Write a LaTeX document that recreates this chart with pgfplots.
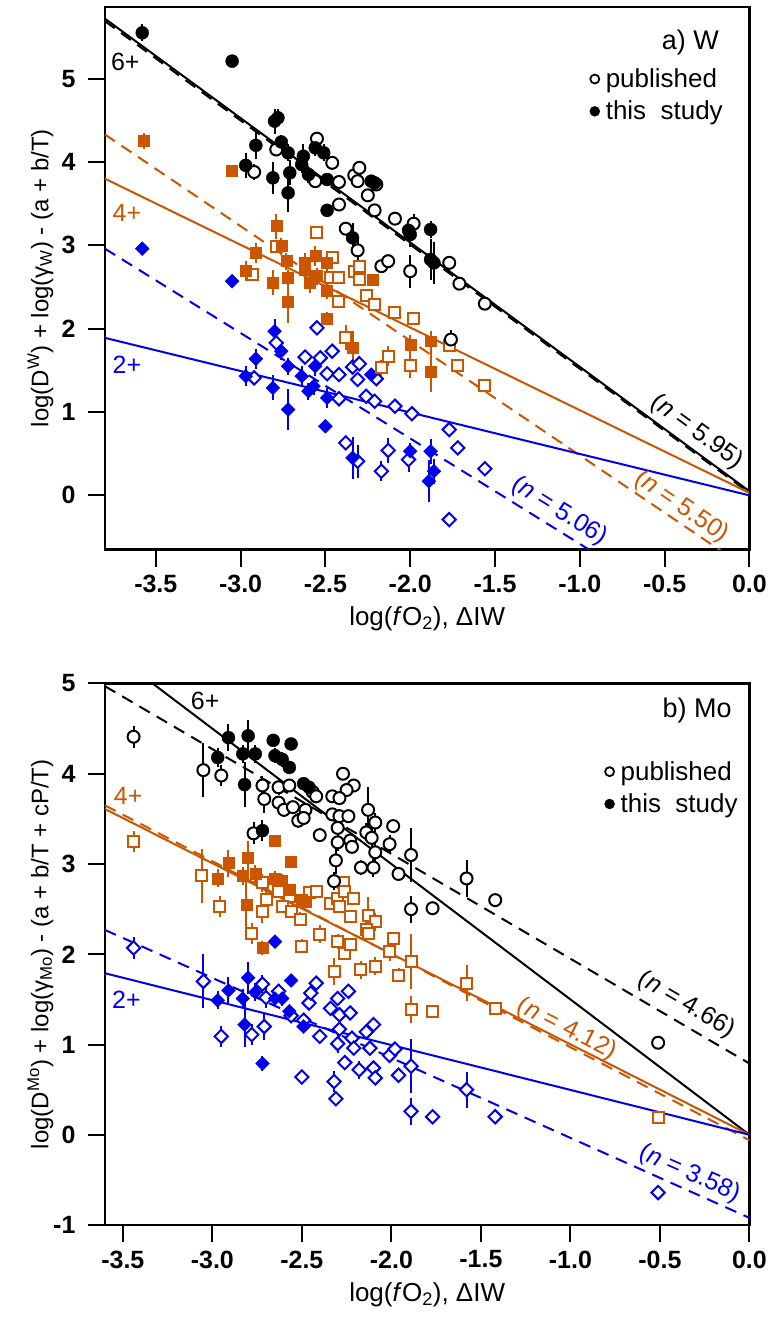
\documentclass[border=0pt]{standalone}
\usepackage{pgfplots}
\usepackage{pgfplotstable}
\pgfplotsset{compat=1.18}
\usepackage{fontspec}
\setmainfont{Liberation Sans}
\definecolor{myorange}{RGB}{204,85,0}
\definecolor{myblue}{RGB}{0,0,235}
\tikzset{ann/.style={font=\fontsize{25}{25}\selectfont}}
\pgfplotsset{
  myaxis/.style={
    scale only axis, width=645pt,
    axis line style={line width=2.5pt},
    tick align=outside, tick style={line width=2pt, black}, major tick length=17pt,
    xtick pos=left, ytick pos=left,
    xtick={-3.5,-3,-2.5,-2,-1.5,-1,-0.5,0},
    xticklabels={-3.5,-3.0,-2.5,-2.0,-1.5,-1.0,-0.5,0.0},
    ticklabel style={font=\fontsize{25}{25}\selectfont\bfseries},
    xticklabel style={yshift=-5pt},
    yticklabel style={xshift=-9pt},
    xlabel style={font=\fontsize{26}{30}\selectfont, at={(axis description cs:0.5,-0.128)}, anchor=center},
    ylabel style={font=\fontsize{24}{28}\selectfont, at={(axis description cs:-0.10,0.5)}, anchor=center, rotate=0},
    legend style={draw=none, fill=none, font=\fontsize{26}{26}\selectfont, row sep=8pt, inner sep=0pt},
    legend cell align=left,
  },
  ebar/.style={only marks, mark=none, forget plot, error bars/.cd, y dir=both, y explicit, error mark=none, error bar style={line width=2pt}},
  pubc/.style={only marks, black, mark=*, mark size=6pt, mark options={line width=2pt, fill=white, draw=black}, forget plot},
  thsc/.style={only marks, black, mark=*, mark size=6.5pt, forget plot},
  pubs/.style={only marks, myorange, mark=square*, mark size=5.5pt, mark options={line width=2pt, fill=white, draw=myorange}, forget plot},
  thss/.style={only marks, myorange, mark=square*, mark size=5.5pt, forget plot},
  pubd/.style={only marks, myblue, mark=square*, mark size=4.7pt, mark options={rotate=45, line width=2pt, fill=white, draw=myblue}, forget plot},
  thsd/.style={only marks, myblue, mark=square*, mark size=4.9pt, mark options={rotate=45}, forget plot},
  fitl/.style={line width=2pt, forget plot},
  fitd/.style={line width=2pt, dash pattern=on 12pt off 8pt, forget plot},
}
% ===================== data: W panel =====================
\pgfplotstableread{
x y e
-2.79 4.15 0.05
-2.92 3.88 0.10
-2.55 4.28 0.05
-2.56 3.77 0.08
-2.46 3.99 0.05
-2.42 3.76 0.05
-2.33 3.84 0.05
-2.30 3.93 0.05
-2.31 3.77 0.05
-2.20 3.73 0.05
-2.25 3.60 0.05
-2.21 3.42 0.05
-2.42 3.49 0.05
-2.38 3.20 0.05
-2.09 3.32 0.05
-1.98 3.26 0.12
-2.00 2.69 0.20
-2.31 2.94 0.15
-2.17 2.75 0.05
-2.13 2.81 0.05
-1.77 2.79 0.05
-1.71 2.54 0.05
-1.56 2.30 0.05
-1.76 1.87 0.12
}\WpubB
\pgfplotstableread{
x y e
-3.58 5.55 0.10
-3.05 5.21 0.06
-2.80 4.49 0.15
-2.78 4.53 0.10
-2.91 4.20 0.16
-2.97 3.96 0.15
-2.81 3.81 0.19
-2.76 4.24 0.08
-2.72 4.11 0.10
-2.71 3.87 0.15
-2.72 3.63 0.23
-2.63 4.07 0.14
-2.64 3.97 0.10
-2.60 3.85 0.10
-2.56 4.17 0.10
-2.51 4.11 0.10
-2.49 3.79 0.08
-2.49 3.42 0.08
-2.23 3.77 0.05
-2.21 3.75 0.05
-2.34 3.09 0.18
-2.00 3.13 0.15
-2.01 3.18 0.10
-1.88 3.19 0.10
-1.88 2.83 0.25
-1.86 2.79 0.25
}\WthsB
\pgfplotstableread{
x y e
-2.79 2.99 0.05
-2.55 3.15 0.05
-2.46 2.85 0.05
-2.33 2.69 0.05
-2.30 2.75 0.05
-2.93 2.65 0.08
-2.47 2.61 0.05
-2.42 2.62 0.05
-2.30 2.59 0.05
-2.42 2.33 0.05
-2.26 2.40 0.05
-2.21 2.29 0.05
-2.09 2.19 0.05
-1.98 2.12 0.05
-2.38 1.90 0.15
-2.13 1.67 0.12
-2.17 1.53 0.10
-2.00 1.56 0.15
-1.77 1.80 0.05
-1.72 1.56 0.05
-1.56 1.32 0.05
}\WpubO
\pgfplotstableread{
x y e
-3.57 4.25 0.10
-3.05 3.89 0.05
-2.79 3.23 0.15
-2.91 2.91 0.12
-2.76 2.99 0.10
-2.73 2.81 0.10
-2.97 2.69 0.12
-2.62 2.79 0.12
-2.56 2.87 0.12
-2.49 2.79 0.10
-2.81 2.55 0.15
-2.72 2.61 0.10
-2.72 2.32 0.25
-2.62 2.71 0.10
-2.59 2.55 0.12
-2.55 2.63 0.10
-2.49 2.46 0.10
-2.49 2.12 0.08
-2.22 2.59 0.05
-2.34 1.77 0.20
-2.00 1.81 0.12
-1.88 1.85 0.12
-1.88 1.49 0.25
}\WthsO
\pgfplotstableread{
x y e
-2.92 1.41 0.05
-2.79 1.83 0.05
-2.55 2.01 0.05
-2.62 1.66 0.05
-2.53 1.65 0.05
-2.46 1.73 0.05
-2.49 1.46 0.05
-2.42 1.45 0.05
-2.34 1.54 0.05
-2.30 1.58 0.05
-2.31 1.39 0.05
-2.20 1.40 0.05
-2.42 1.16 0.05
-2.26 1.19 0.05
-2.21 1.13 0.05
-2.09 1.07 0.05
-1.99 0.98 0.05
-2.38 0.63 0.05
-2.31 0.41 0.20
-2.13 0.54 0.15
-2.17 0.29 0.12
-2.01 0.43 0.15
-1.77 0.79 0.05
-1.72 0.57 0.05
-1.56 0.32 0.05
-1.77 -0.29 0.05
}\WpubL
\pgfplotstableread{
x y e
-3.58 2.96 0.08
-3.05 2.57 0.05
-2.80 1.97 0.15
-2.76 1.73 0.10
-2.91 1.64 0.12
-2.97 1.43 0.12
-2.81 1.29 0.15
-2.72 1.55 0.10
-2.72 1.03 0.25
-2.64 1.43 0.12
-2.60 1.25 0.10
-2.56 1.55 0.12
-2.57 1.31 0.10
-2.49 1.17 0.12
-2.50 0.83 0.06
-2.23 1.45 0.05
-2.34 0.45 0.25
-2.00 0.53 0.10
-1.88 0.53 0.15
-1.86 0.29 0.15
-1.89 0.17 0.25
}\WthsL
% ===================== data: Mo panel =====================
\pgfplotstableread{
x y e
-3.44 4.41 0.12
-3.05 4.04 0.30
-2.95 3.98 0.12
-2.72 3.87 0.10
-2.71 3.72 0.15
-2.63 3.85 0.08
-2.57 3.87 0.05
-2.63 3.68 0.05
-2.60 3.60 0.08
-2.55 3.63 0.05
-2.48 3.60 0.05
-2.52 3.48 0.08
-2.49 3.51 0.08
-2.44 3.80 0.05
-2.42 3.75 0.05
-2.27 4.00 0.05
-2.21 3.87 0.05
-2.25 3.82 0.05
-2.33 3.75 0.05
-2.29 3.73 0.05
-2.33 3.55 0.05
-2.29 3.53 0.08
-2.24 3.53 0.05
-2.30 3.40 0.08
-2.30 3.24 0.10
-2.23 3.26 0.05
-2.22 3.19 0.05
-2.40 3.32 0.08
-2.77 3.34 0.12
-2.31 3.04 0.15
-2.32 2.81 0.10
-2.13 3.60 0.25
-2.09 3.46 0.10
-2.14 3.35 0.10
-2.11 3.29 0.10
-2.09 3.13 0.10
-2.10 2.96 0.10
-2.17 2.96 0.08
-2.01 3.22 0.10
-1.99 3.42 0.05
-1.96 2.89 0.05
-1.89 3.10 0.30
-1.89 2.50 0.15
-1.77 2.51 0.05
-1.58 2.84 0.20
-1.42 2.60 0.05
-0.51 1.02 0.03
}\MpubB
\pgfplotstableread{
x y e
-2.91 4.40 0.15
-2.80 4.42 0.18
-2.97 4.18 0.10
-2.83 4.22 0.10
-2.76 4.22 0.10
-2.66 4.37 0.05
-2.56 4.33 0.05
-2.65 4.20 0.08
-2.61 4.16 0.08
-2.57 4.07 0.05
-2.82 3.88 0.25
-2.49 3.89 0.05
-2.46 3.85 0.05
-2.72 3.37 0.12
}\MthsB
\pgfplotstableread{
x y e
-3.44 3.25 0.12
-3.06 2.87 0.30
-2.96 2.53 0.12
-2.72 2.79 0.10
-2.70 2.61 0.12
-2.63 2.70 0.08
-2.57 2.64 0.05
-2.72 2.47 0.12
-2.61 2.53 0.05
-2.56 2.47 0.05
-2.51 2.39 0.08
-2.46 2.68 0.05
-2.42 2.70 0.05
-2.34 2.56 0.05
-2.30 2.62 0.05
-2.27 2.79 0.05
-2.26 2.70 0.05
-2.21 2.62 0.05
-2.29 2.53 0.05
-2.23 2.42 0.05
-2.13 2.43 0.20
-2.09 2.36 0.10
-2.14 2.27 0.10
-2.40 2.22 0.10
-2.78 2.23 0.12
-2.50 2.09 0.08
-2.30 2.14 0.08
-2.26 2.01 0.05
-2.23 2.11 0.05
-2.32 1.81 0.15
-2.17 1.83 0.10
-2.09 1.87 0.10
-2.13 2.23 0.05
-1.99 2.18 0.05
-2.01 2.03 0.10
-1.96 1.77 0.08
-1.89 1.92 0.30
-1.89 1.39 0.15
-1.77 1.37 0.05
-1.58 1.68 0.20
-1.42 1.40 0.05
-0.51 0.19 0.03
}\MpubO
\pgfplotstableread{
x y e
-2.65 3.26 0.05
-2.56 3.03 0.05
-2.91 3.01 0.15
-2.80 3.07 0.18
-2.97 2.84 0.10
-2.83 2.87 0.10
-2.76 2.89 0.10
-2.65 2.84 0.08
-2.61 2.81 0.08
-2.57 2.72 0.05
-2.81 2.55 0.25
-2.50 2.61 0.05
-2.48 2.58 0.05
-2.72 2.07 0.08
}\MthsO
\pgfplotstableread{
x y e
-3.44 2.07 0.12
-3.05 1.70 0.30
-2.95 1.09 0.12
-2.72 1.67 0.10
-2.70 1.52 0.12
-2.63 1.59 0.08
-2.78 1.11 0.12
-2.71 1.20 0.15
-2.56 1.32 0.05
-2.49 1.27 0.05
-2.46 1.46 0.05
-2.45 1.57 0.05
-2.42 1.68 0.05
-2.40 1.09 0.05
-2.34 1.40 0.05
-2.30 1.51 0.05
-2.24 1.59 0.05
-2.29 1.33 0.05
-2.23 1.35 0.05
-2.29 1.17 0.05
-2.22 1.07 0.05
-2.30 1.01 0.10
-2.21 0.96 0.05
-2.14 1.14 0.05
-2.10 1.22 0.05
-2.12 0.96 0.05
-2.26 0.80 0.05
-2.18 0.72 0.10
-2.10 0.74 0.05
-2.09 0.63 0.05
-2.32 0.59 0.12
-2.31 0.40 0.05
-2.50 0.64 0.05
-2.01 0.88 0.05
-1.98 0.95 0.05
-1.96 0.66 0.08
-1.89 0.76 0.30
-1.89 0.26 0.15
-1.77 0.20 0.05
-1.58 0.50 0.20
-1.42 0.20 0.05
-0.51 -0.64 0.03
}\MpubL
\pgfplotstableread{
x y e
-2.65 2.14 0.05
-2.80 1.74 0.18
-2.91 1.60 0.15
-2.97 1.49 0.10
-2.83 1.51 0.10
-2.76 1.58 0.10
-2.65 1.51 0.08
-2.61 1.51 0.08
-2.56 1.71 0.05
-2.57 1.37 0.05
-2.82 1.22 0.25
-2.49 1.20 0.05
-2.72 0.79 0.08
}\MthsL
\begin{document}
\begin{tikzpicture}
\useasboundingbox (-105pt,-103pt) rectangle (665pt,1226pt);
% ---------------- top panel: W ----------------
\begin{axis}[myaxis, at={(0pt,676pt)}, anchor=south west, height=543pt,
  xmin=-3.8, xmax=0, ymin=-0.65, ymax=5.86,
  ytick={0,1,2,3,4,5}, yticklabels={0,1,2,3,4,5},
  xlabel={log(\textit{f}O\textsubscript{2}), ΔIW},
  ylabel={log(D\textsuperscript{W}) + log(γ\textsubscript{W}) - (a + b/T)},
  legend style={at={(axis description cs:0.962,0.89)}, anchor=north east}]
\addplot[fitl, black] coordinates {(-3.8,5.72) (0,0.05)};
\addplot[fitd, black] coordinates {(-3.8,5.69) (0,0.03)};
\addplot[fitd, myorange] coordinates {(-3.8,4.33) (0,-0.895)};
\addplot[fitl, myorange] coordinates {(-3.8,3.80) (0,0.03)};
\addplot[fitd, myblue] coordinates {(-3.8,2.96) (0,-1.847)};
\addplot[fitl, myblue] coordinates {(-3.8,1.89) (0,0.0)};
\addplot[myblue, ebar] table[y error=e] {\WpubL};
\addplot[myblue, ebar] table[y error=e] {\WthsL};
\addplot[pubd] table {\WpubL};
\addplot[thsd] table {\WthsL};
\addplot[myorange, ebar] table[y error=e] {\WpubO};
\addplot[myorange, ebar] table[y error=e] {\WthsO};
\addplot[pubs] table {\WpubO};
\addplot[thss] table {\WthsO};
\addplot[black, ebar] table[y error=e] {\WpubB};
\addplot[black, ebar] table[y error=e] {\WthsB};
\addplot[pubc] table {\WpubB};
\addplot[thsc] table {\WthsB};
\addlegendimage{only marks, black, mark=o, mark size=4.5pt, mark options={line width=1.8pt}}
\addlegendimage{only marks, black, mark=*, mark size=5pt}
\legend{\hspace{4pt}published, \hspace{4pt}this\ \ study}
\node[ann, black] at (axis cs:-3.68,5.2) {6+};
\node[ann, myorange] at (axis cs:-3.67,3.39) {4+};
\node[ann, myblue] at (axis cs:-3.67,1.57) {2+};
\node[ann, black, rotate=-36] at (axis cs:-0.31,0.76) {(\textit{n} = 5.95)};
\node[ann, myorange, rotate=-34] at (axis cs:-0.40,-0.14) {(\textit{n} = 5.50)};
\node[ann, myblue, rotate=-32] at (axis cs:-1.12,-0.19) {(\textit{n} = 5.06)};
\node[font=\fontsize{27}{27}\selectfont, anchor=east] at (axis cs:-0.16,5.43) {a) W};
\end{axis}
% ---------------- bottom panel: Mo ----------------
\begin{axis}[myaxis, at={(0pt,0pt)}, anchor=south west, height=542pt,
  xmin=-3.6, xmax=0, ymin=-1, ymax=5,
  ytick={-1,0,1,2,3,4,5}, yticklabels={-1,0,1,2,3,4,5},
  xlabel={log(\textit{f}O\textsubscript{2}), ΔIW},
  ylabel={log(D\textsuperscript{Mo}) + log(γ\textsubscript{Mo}) - (a + b/T + cP/T)},
  legend style={at={(axis description cs:0.985,0.86)}, anchor=north east}]
\addplot[fitl, black] coordinates {(-3.6,5.4) (0,0)};
\addplot[fitd, black] coordinates {(-3.6,4.97) (0,0.79)};
\addplot[fitl, myorange] coordinates {(-3.6,3.61) (0,0)};
\addplot[fitd, myorange] coordinates {(-3.6,3.65) (0,-0.06)};
\addplot[fitl, myblue] coordinates {(-3.6,1.79) (0,0)};
\addplot[fitd, myblue] coordinates {(-3.6,2.27) (0,-0.92)};
\addplot[myblue, ebar] table[y error=e] {\MpubL};
\addplot[myblue, ebar] table[y error=e] {\MthsL};
\addplot[pubd] table {\MpubL};
\addplot[thsd] table {\MthsL};
\addplot[myorange, ebar] table[y error=e] {\MpubO};
\addplot[myorange, ebar] table[y error=e] {\MthsO};
\addplot[pubs] table {\MpubO};
\addplot[thss] table {\MthsO};
\addplot[black, ebar] table[y error=e] {\MpubB};
\addplot[black, ebar] table[y error=e] {\MthsB};
\addplot[pubc] table {\MpubB};
\addplot[thsc] table {\MthsB};
\addlegendimage{only marks, black, mark=o, mark size=4.5pt, mark options={line width=1.8pt}}
\addlegendimage{only marks, black, mark=*, mark size=5pt}
\legend{\hspace{4pt}published, \hspace{4pt}this\ \ study}
\node[ann, black] at (axis cs:-3.04,4.81) {6+};
\node[ann, myorange] at (axis cs:-3.47,3.76) {4+};
\node[ann, myblue] at (axis cs:-3.48,1.5) {2+};
\node[ann, black, rotate=-30] at (axis cs:-0.35,1.44) {(\textit{n} = 4.66)};
\node[ann, myorange, rotate=-27] at (axis cs:-1.02,1.17) {(\textit{n} = 4.12)};
\node[ann, myblue, rotate=-24] at (axis cs:-0.335,-0.43) {(\textit{n} = 3.58)};
\node[font=\fontsize{27}{27}\selectfont, anchor=east] at (axis cs:-0.08,4.70) {b) Mo};
\end{axis}
\end{tikzpicture}
\end{document}
